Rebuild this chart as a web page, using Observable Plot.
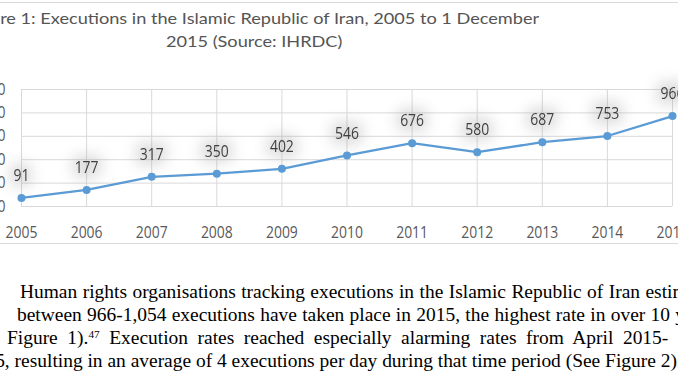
<!DOCTYPE html>
<html>
<head>
<meta charset="utf-8">
<script src="https://cdn.jsdelivr.net/npm/d3@7"></script>
<script src="https://cdn.jsdelivr.net/npm/@observablehq/plot@0.6"></script>
<style>
  html, body { margin: 0; padding: 0; background: #fff; }
  #page { position: relative; width: 678px; height: 381px; overflow: hidden; background: #fff; }
  .frame { position: absolute; left: -20px; top: 2px; width: 720px; height: 242px; border: 1px solid #d9d9d9; box-sizing: border-box; }
  .tline { position: absolute; left: 0; white-space: nowrap; font-family: Lato, "Open Sans", sans-serif; font-size: 15px; line-height: 18px; color: #555; transform-origin: 0 0; }
  .bline { position: absolute; left: 0; white-space: nowrap; font-family: "Liberation Serif", "Times New Roman", serif; font-size: 19px; line-height: 23px; color: #000; transform-origin: 0 0; }
  .bline sup { font-size: 11px; line-height: 0; vertical-align: 0.55em; }
  #chart { position: absolute; left: -60px; top: 60px; width: 800px; }
</style>
</head>
<body>
<div id="page">
  <div class="frame"></div>
  <div id="chart"></div>
</div>
<script>
// ---- chart data ----
const years = [2005, 2006, 2007, 2008, 2009, 2010, 2011, 2012, 2013, 2014, 2015];
const executions = [91, 177, 317, 350, 402, 546, 676, 580, 687, 753, 966];
const yTicks = [0, 250, 500, 750, 1000, 1250];

// ---- text ----
const titlePre = "Figu";
const titleLine1 = "re 1: Executions in the Islamic Republic of Iran, 2005 to 1 December";
const titleLine2 = "2015 (Source: IHRDC)";
const bodyPre = ["", "", "", "2015"];
const bodyFit = [
  "Human rights organisations tracking executions in the Islamic Republic of Iran",
  "between 966-1,054 executions have taken place in 2015, the highest rate in over 10",
  "Figure 1).<sup>47</sup>  Execution rates reached especially alarming rates from April 2015-",
  ", resulting in an average of 4 executions per day during that time period (See Figure 2)"
];
const bodyPost = [" estimate", " years", "", "."];

// ---- layout (page pixels) ----
const bodyX0 = [20, 17, 7, 5];
const bodyX1 = [640, 670, 673, 677];
const bodyBase = [297.7, 321, 344.3, 367.3];

const data = years.map((year, i) => ({year, value: executions[i]}));

const chart = Plot.plot({
  width: 800,
  height: 190,
  marginLeft: 81,
  marginRight: 68,
  marginTop: 29,
  marginBottom: 44,
  style: {fontFamily: "'Open Sans', sans-serif", fontSize: "16px", color: "#595959", background: "transparent", maxWidth: "none", overflow: "visible"},
  x: {domain: [2005, 2015], axis: null, label: null},
  y: {domain: [0, 1250], axis: null, label: null},
  marks: [
    Plot.gridY(yTicks, {stroke: "#d9d9d9", strokeOpacity: 1, strokeWidth: 1}),
    Plot.gridX(years, {stroke: "#d9d9d9", strokeOpacity: 1, strokeWidth: 1}),
    Plot.axisX(years, {tickSize: 0, tickPadding: 20, tickFormat: d => String(d), fontSize: 16, fill: "#595959", label: null}),
    Plot.axisY(yTicks, {tickSize: 0, tickPadding: 16, tickFormat: d => String(d), fontSize: 16, fill: "#595959", label: null}),
    // soft halo behind data labels
    Plot.text(data, {x: "year", y: "value", text: d => String(d.value), dy: -22, fontSize: 16, fill: "#999", stroke: "#999", strokeWidth: 12}),
    Plot.line(data, {x: "year", y: "value", stroke: "#5b9bd5", strokeWidth: 2.25}),
    Plot.dot(data, {x: "year", y: "value", r: 4, fill: "#5b9bd5", stroke: "none"}),
    Plot.text(data, {x: "year", y: "value", text: d => String(d.value), dy: -22, fontSize: 16, fill: "#404040"})
  ]
});
document.getElementById("chart").appendChild(chart);

// condense chart text horizontally (source image is squeezed)
const chartScale = 0.87;
d3.select(chart).selectAll("text").each(function() {
  const t = this.getAttribute("transform") || "";
  this.setAttribute("transform", t + ` scale(${chartScale},1)`);
});
const labelGroups = d3.select(chart).selectAll('g[aria-label="text"]').nodes();
if (labelGroups.length > 0) {
  d3.select(labelGroups[0]).style("filter", "blur(7px)").style("opacity", 0.32);
}

const page = document.getElementById("page");
function makeLine(cls, pre, fit, post) {
  const div = document.createElement("div");
  div.className = cls;
  const sp = document.createElement("span"); sp.textContent = pre;
  const sf = document.createElement("span"); sf.innerHTML = fit;
  const so = document.createElement("span"); so.textContent = post;
  div.append(sp, sf, so);
  page.appendChild(div);
  return {div, sp, sf};
}
const t1 = makeLine("tline", titlePre, titleLine1, "");
const t2 = makeLine("tline", "", titleLine2, "");
const lines = bodyFit.map((f, i) => makeLine("bline", bodyPre[i], f, bodyPost[i]));

function layout() {
  // ---- title ----
  t1.div.style.transform = "none";
  t2.div.style.transform = "none";
  const tScale = 539 / t1.sf.getBoundingClientRect().width;
  const tBaseOff = 14.8;
  const tp = t1.sp.getBoundingClientRect().width;
  t1.div.style.transform = `scaleX(${tScale})`;
  t1.div.style.left = (0 - tScale * tp) + "px";
  t1.div.style.top = (24 - tBaseOff) + "px";
  t2.div.style.transform = `scaleX(${tScale})`;
  t2.div.style.left = "166px";
  t2.div.style.top = (46.7 - tBaseOff) + "px";

  // ---- body text ----
  lines.forEach(L => { L.div.style.transform = "none"; L.div.style.wordSpacing = "0px"; });
  const bScale = (bodyX1[3] - bodyX0[3]) / lines[3].sf.getBoundingClientRect().width;
  const bBaseOff = 17.9;
  lines.forEach((L, i) => {
    const w0 = L.sf.getBoundingClientRect().width;
    const n = (L.sf.textContent.match(/ /g) || []).length;
    let ws = 0;
    if (i < 3 && n > 0) ws = ((bodyX1[i] - bodyX0[i]) / bScale - w0) / n;
    L.div.style.wordSpacing = ws + "px";
    const wp = L.sp.getBoundingClientRect().width;
    L.div.style.transform = `scaleX(${bScale})`;
    L.div.style.left = (bodyX0[i] - bScale * wp) + "px";
    L.div.style.top = (bodyBase[i] - bBaseOff) + "px";
  });
}
layout();
if (document.fonts && document.fonts.ready) document.fonts.ready.then(layout);
</script>
</body>
</html>
